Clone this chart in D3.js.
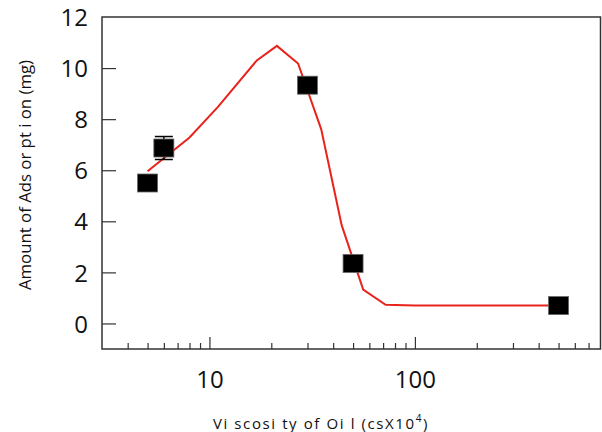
<!DOCTYPE html>
<html><head><meta charset="utf-8">
<script src="https://cdn.jsdelivr.net/npm/d3@7"></script>
<style>body{margin:0;background:#fff}</style>
</head><body>
<svg id="c" width="602" height="432"></svg>
<script>
// Data
const pointX = [5, 6, 30, 50, 500];
const pointY = [5.5, 6.87, 9.33, 2.35, 0.7];
const pointErr = [0, 0.45, 0, 0, 0];
const curveX = [5, 8, 11, 17, 21.3, 27, 35, 44, 56, 72, 100, 500];
const curveY = [5.96, 7.28, 8.48, 10.3, 10.87, 10.18, 7.6, 3.85, 1.33, 0.73, 0.7, 0.7];
const yTicks = [0, 2, 4, 6, 8, 10, 12];
const xMajor = [10, 100];
const xMinor = [4, 5, 6, 7, 8, 9, 20, 30, 40, 50, 60, 70, 80, 90, 200, 300, 400, 500, 600, 700];

const L = 102, R = 600.5, T = 17, B = 349;
const svg = d3.select("#c");
const x = d3.scaleLog().domain([3, 800]).range([L, R]);
const y = d3.scaleLinear().domain([-1, 12]).range([B, T]);
const font = "'Open Sans', 'DejaVu Sans', sans-serif";

// frame
svg.append("rect").attr("x", L).attr("y", T).attr("width", R - L).attr("height", B - T)
  .attr("fill", "none").attr("stroke", "#333").attr("stroke-width", 1.5);

// y ticks (inside)
const yAxis = d3.axisLeft(y).tickValues(yTicks).tickSize(-14).tickPadding(28).tickFormat(d3.format("d"));
const gy = svg.append("g").attr("transform", `translate(${L},0)`).call(yAxis);
gy.select(".domain").remove();
gy.selectAll(".tick line").attr("stroke", "#333").attr("stroke-width", 1.2)
  .filter(d => d === 12).remove();
gy.selectAll("text").attr("font-family", font).attr("font-size", 24).attr("fill", "#111").attr("dy", "0.36em").attr("x", -14);

// x ticks (inside)
const gx = svg.append("g").attr("transform", `translate(0,${B})`)
  .call(d3.axisBottom(x).tickValues(xMajor).tickSize(-12).tickPadding(30).tickFormat(d3.format("d")));
gx.select(".domain").remove();
gx.selectAll(".tick line").attr("stroke", "#333").attr("stroke-width", 1.2);
gx.selectAll("text").attr("font-family", font).attr("font-size", 24).attr("fill", "#111").attr("y", 22).attr("dy", "0.71em");
const gxm = svg.append("g").attr("transform", `translate(0,${B})`)
  .call(d3.axisBottom(x).tickValues(xMinor).tickSize(-6).tickFormat(""));
gxm.select(".domain").remove();
gxm.selectAll(".tick line").attr("stroke", "#333").attr("stroke-width", 1.2);

// curve
const line = d3.line().x((d, i) => x(curveX[i])).y((d, i) => y(curveY[i]));
svg.append("path").datum(curveX).attr("d", line).attr("fill", "none")
  .attr("stroke", "#e8231c").attr("stroke-width", 2);

// error bars
const pts = pointX.map((v, i) => ({x: v, y: pointY[i], e: pointErr[i]}));
const eb = svg.append("g").selectAll("g").data(pts.filter(d => d.e > 0)).join("g");
eb.append("line").attr("x1", d => x(d.x)).attr("x2", d => x(d.x))
  .attr("y1", d => y(d.y + d.e)).attr("y2", d => y(d.y - d.e)).attr("stroke", "#000").attr("stroke-width", 1.5);
eb.append("line").attr("x1", d => x(d.x) - 9).attr("x2", d => x(d.x) + 9)
  .attr("y1", d => y(d.y + d.e)).attr("y2", d => y(d.y + d.e)).attr("stroke", "#000").attr("stroke-width", 1.5);
eb.append("line").attr("x1", d => x(d.x) - 9).attr("x2", d => x(d.x) + 9)
  .attr("y1", d => y(d.y - d.e)).attr("y2", d => y(d.y - d.e)).attr("stroke", "#000").attr("stroke-width", 1.5);

// squares
svg.append("g").selectAll("rect").data(pts).join("rect")
  .attr("x", d => x(d.x) - 10).attr("y", d => y(d.y) - 9)
  .attr("width", 20).attr("height", 18)
  .attr("fill", "#000").attr("stroke", "#666").attr("stroke-width", 0.8);

// axis titles
svg.append("text").attr("transform", "translate(31,175) rotate(-90)")
  .attr("text-anchor", "middle").attr("font-family", font).attr("font-size", 17)
  .attr("textLength", 230).attr("lengthAdjust", "spacingAndGlyphs").attr("fill", "#111")
  .text("Amount of Ads or pt i on (mg)");
const xt = svg.append("text").attr("x", 321).attr("y", 429).attr("text-anchor", "middle")
  .attr("font-family", font).attr("font-size", 15).attr("letter-spacing", 1.6).attr("fill", "#111");
xt.append("tspan").text("Vi scosi ty of Oi l (csX10");
xt.append("tspan").attr("font-size", 10).attr("dy", -7).text("4");
xt.append("tspan").attr("dy", 7).text(")");
</script>
</body></html>
